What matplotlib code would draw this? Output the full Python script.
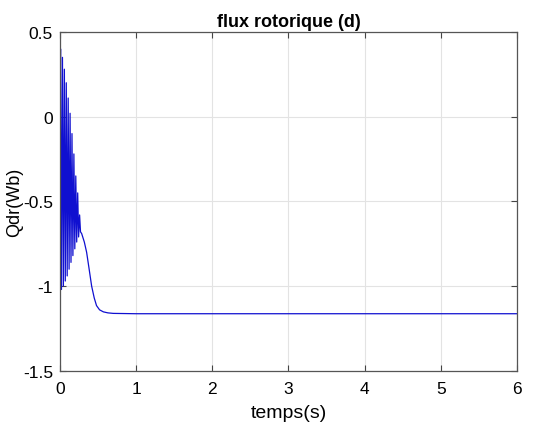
import matplotlib.pyplot as plt

# zig-zag part (start of the simulation)
t_osc = [0.0, 0.008, 0.02, 0.033, 0.045, 0.058, 0.07, 0.083, 0.095, 0.108, 0.12,
         0.133, 0.145, 0.158, 0.17, 0.183, 0.195, 0.208, 0.22, 0.233, 0.245,
         0.258, 0.27, 0.285]
q_osc = [0.0, 0.40, -1.02, 0.35, -1.0, 0.28, -0.97, 0.20, -0.94, 0.11, -0.90,
         0.02, -0.86, -0.10, -0.82, -0.22, -0.78, -0.35, -0.74, -0.45, -0.71,
         -0.58, -0.68, -0.69]

# smooth part after the transient
t_tail = [0.32, 0.35, 0.38, 0.416, 0.45, 0.48, 0.52, 0.57, 0.63, 0.7, 1.0, 6.0]
q_tail = [-0.74, -0.80, -0.89, -1.0, -1.07, -1.115, -1.14, -1.152, -1.158, -1.161, -1.163, -1.163]

t = t_osc + t_tail
q = q_osc + q_tail

plt.rcParams['font.family'] = ['Liberation Sans', 'DejaVu Sans']

fig = plt.figure(figsize=(5.5, 4.39), dpi=100)
ax = fig.add_axes([0.109, 0.153, 0.831, 0.772])
ax.plot(t, q, color='#1010d0', lw=0.9)

ax.set_xlim(0, 6)
ax.set_ylim(-1.5, 0.5)
ax.set_xticks([0, 1, 2, 3, 4, 5, 6])
ax.set_yticks([-1.5, -1, -0.5, 0, 0.5])
ax.set_yticklabels(['-1.5', '-1', '-0.5', '0', '0.5'])
ax.grid(True, color='#e3e3e3', lw=0.8)
ax.tick_params(direction='in', top=True, right=True, labelsize=12.5,
               color='#444444', length=4)
ax.tick_params(axis='x', pad=7)
ax.tick_params(axis='y', pad=5)
for s in ax.spines.values():
    s.set_color('#555555')
    s.set_linewidth(0.9)

ax.set_title('flux rotorique (d)', fontsize=13, fontweight='bold', pad=4)
ax.set_xlabel('temps(s)', fontsize=14, labelpad=6)
ax.set_ylabel('Qdr(Wb)', fontsize=13)
ax.yaxis.set_label_coords(-0.08, 0.5)

fig.savefig('out.png', dpi=100)
